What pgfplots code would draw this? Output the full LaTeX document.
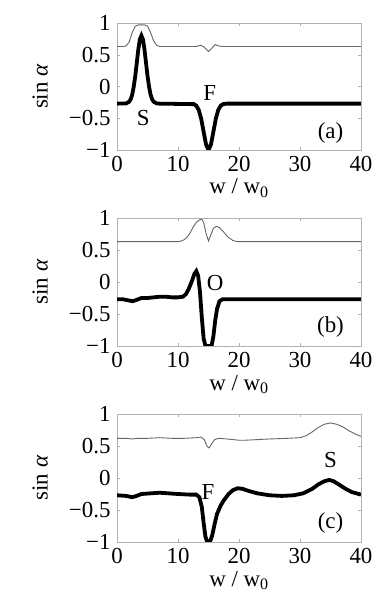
\documentclass[border=0pt]{standalone}
\usepackage{fontspec}
\setmainfont{Liberation Serif}
\usepackage{pgfplots}
\pgfplotsset{compat=1.18}

\newcommand{\fs}{\fontsize{23}{24}\selectfont}

\pgfplotsset{
  panel/.style={
    scale only axis,
    width=244bp, height=127bp,
    anchor=south west,
    xmin=0, xmax=40, ymin=-1, ymax=1,
    xtick={0,10,20,30,40},
    xticklabels={\textrm{0},\textrm{10},\textrm{20},\textrm{30},\textrm{40}},
    ytick={-1,-0.5,0,0.5,1},
    yticklabels={\textrm{−1},\textrm{−0.5},\textrm{0},\textrm{0.5},\textrm{1}},
    axis line style={gray!60},
    tick style={gray!60, major tick length=3bp},
    xticklabel style={font=\fs, black, inner sep=0pt, yshift=-6bp},
    yticklabel style={font=\fs, black, xshift=-3bp},
    xlabel={w / w\textsubscript{0}},
    ylabel={sin \textit{α}},
    every axis x label/.style={at={(axis description cs:0.5,-0.30)}, anchor=center, font=\fs, inner sep=0pt},
    every axis y label/.style={at={(axis description cs:-0.315,0.5)}, rotate=90, anchor=center, font=\fs},
  },
  thin/.style={black!60, line width=0.9bp},
  thick/.style={black, line width=3.8bp},
}

\begin{document}
\begin{tikzpicture}
\path[use as bounding box] (0,0) rectangle (382bp,599bp);

% (a)
\begin{axis}[panel, at={(117bp,449bp)}]
\addplot[thin] coordinates {
(0,0.63)(1,0.63)(1.5,0.64)(2,0.70)(2.5,0.85)(3,0.95)(3.5,0.97)(4.5,0.97)(5,0.95)(5.5,0.85)(6,0.72)(6.5,0.65)(7,0.63)
(13,0.63)(13.7,0.65)(14.3,0.62)(15,0.55)(15.5,0.60)(16.1,0.66)(16.6,0.64)(17.2,0.63)(40,0.63)
};
\addplot[thick] coordinates {
(0,-0.27)(1.5,-0.266)(2,-0.239)(2.25,-0.199)(2.5,-0.126)(2.75,0.0)(3,0.169)(3.25,0.379)(3.5,0.586)(3.75,0.742)(4,0.80)
(4.25,0.742)(4.5,0.586)(4.75,0.379)(5,0.169)(5.25,0.0)(5.5,-0.126)(5.75,-0.199)(6,-0.239)(6.5,-0.266)(7,-0.27)
(12.6,-0.278)(13,-0.302)(13.4,-0.369)(13.8,-0.507)(14.2,-0.713)(14.6,-0.914)(15,-1)(15.4,-0.914)(15.8,-0.713)
(16.2,-0.507)(16.6,-0.369)(17,-0.302)(17.4,-0.278)(18,-0.27)(40,-0.27)
};
\node[font=\fs] at (axis cs:4.3,-0.50) {S};
\node[font=\fs] at (axis cs:15.2,-0.10) {F};
\node[font=\fs] at (axis cs:35,-0.73) {(a)};
\end{axis}

% (b)
\begin{axis}[panel, at={(117bp,253bp)}, height=128bp]
\addplot[thin] coordinates {
(0,0.63)(10,0.63)(10.5,0.64)(11,0.66)(11.5,0.70)(12,0.77)(12.5,0.86)(13,0.93)(13.5,0.97)(13.9,0.98)(14.2,0.93)
(14.6,0.76)(15,0.64)(15.4,0.74)(15.8,0.84)(16.3,0.87)(16.8,0.85)(17.5,0.78)(18.2,0.70)(19,0.65)(19.7,0.63)(20.5,0.63)(40,0.63)
};
\addplot[thick] coordinates {
(0,-0.27)(1,-0.27)(2,-0.29)(2.6,-0.30)(3.2,-0.28)(4,-0.25)(5,-0.25)(6,-0.24)(7,-0.23)(8,-0.23)(9,-0.24)(10,-0.24)
(10.8,-0.23)(11.3,-0.19)(11.8,-0.10)(12.3,0.02)(12.7,0.13)(13,0.17)(13.3,0.10)(13.6,-0.15)(13.9,-0.55)(14.2,-0.88)
(14.5,-1)(15.5,-1)(15.8,-0.85)(16.1,-0.6)(16.4,-0.42)(16.8,-0.30)(17.3,-0.27)(40,-0.27)
};
\node[font=\fs] at (axis cs:16.1,-0.02) {O};
\node[font=\fs] at (axis cs:35,-0.70) {(b)};
\end{axis}

% (c)
\begin{axis}[panel, at={(117bp,57bp)}, height=128bp]
\addplot[thin] coordinates {
(0,0.62)(1.5,0.62)(2.5,0.61)(3.5,0.62)(5,0.62)(7,0.63)(9,0.62)(11,0.62)(13,0.63)(13.8,0.64)(14.3,0.60)(14.8,0.49)
(15.1,0.47)(15.5,0.53)(16,0.60)(16.7,0.62)(18,0.61)(20,0.59)(21,0.59)(23,0.60)(25,0.61)(28,0.62)(30,0.63)(31,0.66)
(32,0.72)(33,0.79)(34,0.84)(35,0.86)(36,0.84)(37,0.80)(38,0.74)(39,0.69)(40,0.65)
};
\addplot[thick] coordinates {
(0,-0.27)(1.5,-0.28)(2.5,-0.30)(3.2,-0.28)(4,-0.25)(5.5,-0.24)(7,-0.23)(8.5,-0.24)(10,-0.25)(12,-0.26)(13,-0.26)
(13.5,-0.30)(13.9,-0.45)(14.2,-0.70)(14.5,-0.92)(14.8,-1)(15.3,-0.98)(15.6,-0.90)(16,-0.72)(16.4,-0.56)(17,-0.43)
(17.5,-0.35)(18.3,-0.25)(19,-0.19)(19.8,-0.16)(20.6,-0.17)(21.5,-0.20)(23,-0.24)(25,-0.27)(27,-0.28)(29,-0.27)
(30.5,-0.24)(32,-0.17)(33,-0.10)(34,-0.05)(34.8,-0.03)(35.5,-0.05)(36.5,-0.11)(37.5,-0.17)(38.5,-0.22)(40,-0.26)
};
\node[font=\fs] at (axis cs:35,0.28) {S};
\node[font=\fs] at (axis cs:14.9,-0.22) {F};
\node[font=\fs] at (axis cs:35,-0.70) {(c)};
\end{axis}
\end{tikzpicture}
\end{document}
